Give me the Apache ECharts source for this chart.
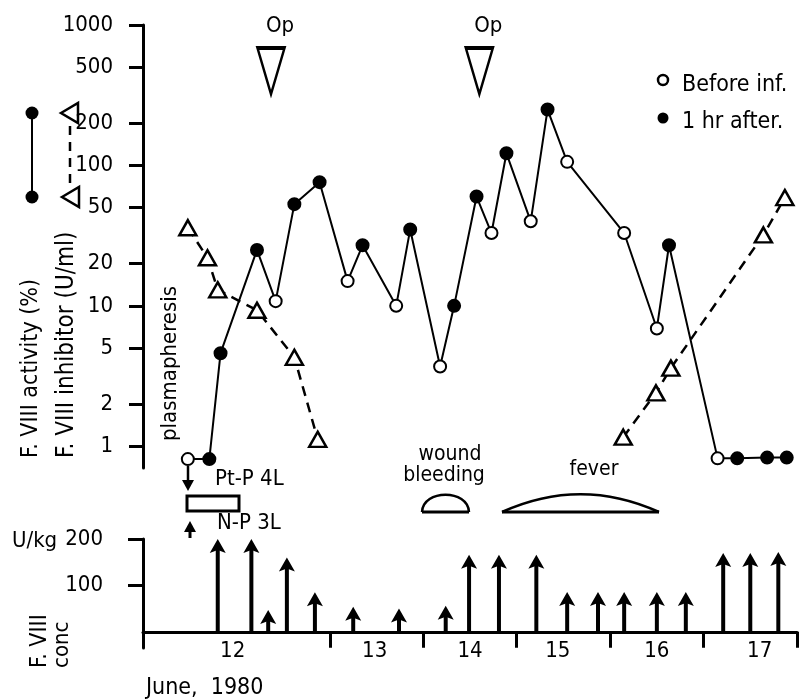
<!DOCTYPE html>
<html>
<head>
<meta charset="utf-8">
<script src="https://cdn.jsdelivr.net/npm/echarts@6/dist/echarts.min.js"></script>
<style>html,body{margin:0;padding:0;background:#fff}#chart{width:799px;height:700px}</style>
</head>
<body>
<div id="chart"></div>
<script>
// x values are in day units, 0 = left end of the time axis (one unit = one day)
var activityDays = [0.48, 0.71, 0.83, 1.22, 1.42, 1.62, 1.89, 2.19, 2.35, 2.71, 2.86, 3.18, 3.33, 3.57, 3.73, 3.89, 4.15, 4.33, 4.54, 5.15, 5.50, 5.63, 6.15, 6.36, 6.68, 6.89];
var activityVals = [0.81, 0.81, 4.6, 25, 10.8, 53, 76, 15, 27, 10, 35, 3.7, 10, 60, 33, 122, 40, 250, 106, 33, 6.9, 27, 0.82, 0.82, 0.83, 0.83];
var activityAfter = [0, 1, 1, 1, 0, 1, 1, 0, 1, 0, 1, 0, 1, 1, 0, 1, 0, 1, 0, 0, 0, 1, 0, 1, 1, 1];
var inhibitorDays = [0.48, 0.69, 0.80, 1.22, 1.62, 1.87, null, 5.14, 5.49, 5.65, 6.64, 6.87];
var inhibitorVals = [36, 22, 13, 9.3, 4.3, 1.12, null, 1.16, 2.4, 3.6, 32, 59];
var doseDays = [0.80, 1.16, 1.34, 1.54, 1.84, 2.25, 2.74, 3.24, 3.49, 3.81, 4.21, 4.54, 4.87, 5.15, 5.50, 5.81, 6.21, 6.50, 6.80];
var doseVals = [200, 200, 47, 160, 85, 54, 50, 56, 166, 166, 166, 86, 86, 86, 86, 86, 170, 170, 172];
var opDays = [1.37, 3.60];
var opLevel = 470;
var dayTicks = [2, 3, 4, 5, 6, 7];
var dayLabelPos = [0.96, 2.48, 3.5, 4.44, 5.5, 6.6];
var dayLabels = ['12', '13', '14', '15', '16', '17'];
var activityTicks = [1, 2, 5, 10, 20, 50, 100, 200, 500, 1000];
var doseTicks = [100, 200];

var FONT = "'Liberation Sans Narrow', 'DejaVu Sans Condensed', sans-serif";
var black = '#000';

var chart = echarts.init(document.getElementById('chart'));

function dayLabel(v) {
	for (var i = 0; i < dayLabelPos.length; i++) {
		if (Math.abs(dayLabelPos[i] - v) < 1e-6) return dayLabels[i];
	}
	return '';
}

function txt(x, y, s, size, align) {
	return {
		type: 'text', x: x, y: y,
		style: { text: s, fill: black, font: size + 'px ' + FONT, textAlign: align || 'left', textVerticalAlign: 'middle' }
	};
}
function vtxt(x, yBottom, s, size) {
	return {
		type: 'text', x: x, y: yBottom, rotation: Math.PI / 2,
		style: { text: s, fill: black, font: size + 'px ' + FONT, textAlign: 'left', textVerticalAlign: 'middle' }
	};
}
function arrowHead(x, y, dir) {
	// dir 1 = pointing down, -1 = pointing up
	return {
		type: 'polygon',
		shape: { points: [[x, y], [x - 6, y - dir * 11], [x + 6, y - dir * 11]] },
		style: { fill: black }
	};
}
function dome(x1, x2, yBase, cp1, cp2) {
	return [
		{ type: 'bezierCurve', shape: { x1: x1, y1: yBase, x2: x2, y2: yBase, cpx1: cp1[0], cpy1: cp1[1], cpx2: cp2[0], cpy2: cp2[1] }, style: { stroke: black, lineWidth: 2.5, fill: null } },
		{ type: 'line', shape: { x1: x1, y1: yBase, x2: x2, y2: yBase }, style: { stroke: black, lineWidth: 3 } }
	];
}

var graphics = [
	// left legend marks
	{ type: 'line', shape: { x1: 32, y1: 113, x2: 32, y2: 197 }, style: { stroke: black, lineWidth: 2 } },
	{ type: 'circle', shape: { cx: 32, cy: 113, r: 6.5 }, style: { fill: black } },
	{ type: 'circle', shape: { cx: 32, cy: 197, r: 6.5 }, style: { fill: black } },
	{ type: 'line', shape: { x1: 70, y1: 126, x2: 70, y2: 186 }, style: { stroke: black, lineWidth: 2.5, lineDash: [9, 7] } },
	{ type: 'polygon', shape: { points: [[61, 113], [78, 103], [78, 123]] }, style: { fill: '#fff', stroke: black, lineWidth: 2.5 } },
	{ type: 'polygon', shape: { points: [[62, 197], [79, 187], [79, 207]] }, style: { fill: '#fff', stroke: black, lineWidth: 2.5 } },
	vtxt(31, 458, 'F. VIII activity (%)', 23),
	vtxt(67, 458, 'F. VIII inhibitor (U/ml)', 24),
	vtxt(170, 441, 'plasmapheresis', 22),
	// right legend
	{ type: 'circle', shape: { cx: 663, cy: 80, r: 5 }, style: { fill: '#fff', stroke: black, lineWidth: 2.5 } },
	{ type: 'circle', shape: { cx: 663, cy: 118, r: 5.5 }, style: { fill: black } },
	txt(682, 85, 'Before inf.', 23),
	txt(682, 122, '1 hr after.', 23),
	// plasmapheresis block
	{ type: 'line', shape: { x1: 188, y1: 466, x2: 188, y2: 482 }, style: { stroke: black, lineWidth: 2.5 } },
	arrowHead(188, 491, 1),
	{ type: 'rect', shape: { x: 187, y: 496, width: 52, height: 15 }, style: { fill: '#fff', stroke: black, lineWidth: 3 } },
	{ type: 'line', shape: { x1: 190, y1: 538, x2: 190, y2: 529 }, style: { stroke: black, lineWidth: 3 } },
	arrowHead(190, 521, -1),
	txt(215, 479, 'Pt-P 4L', 22),
	txt(217, 523, 'N-P 3L', 22),
	// events
	txt(450, 455, 'wound', 21, 'center'),
	txt(444, 476, 'bleeding', 21, 'center'),
	txt(594, 470, 'fever', 21, 'center'),
	// lower panel titles
	txt(12, 541, 'U/kg', 22),
	vtxt(40, 668, 'F. VIII', 23),
	vtxt(62, 668, 'conc', 22),
	txt(146, 688, 'June,  1980', 23)
].concat(dome(422, 469, 512, [423, 489], [468, 489]), dome(502, 659, 512, [555, 488], [606, 488]));

var labelStyle = { color: black, fontSize: 22, fontFamily: FONT };

var option = {
	animation: false,
	backgroundColor: '#fff',
	textStyle: { fontFamily: FONT },
	grid: [
		{ left: 143, right: 2, top: 25, height: 443 },
		{ left: 143, right: 2, top: 539, height: 109 }
	],
	xAxis: [
		{ type: 'value', gridIndex: 0, min: 0, max: 7, show: false },
		{
			type: 'value', gridIndex: 1, min: 0, max: 7,
			axisLine: { onZero: true, lineStyle: { color: black, width: 3 } },
			axisTick: { customValues: dayTicks, length: 16, lineStyle: { color: black, width: 3 } },
			axisLabel: Object.assign({ customValues: dayLabelPos, formatter: dayLabel, margin: -8 }, labelStyle),
			splitLine: { show: false }
		}
	],
	yAxis: [
		{
			type: 'log', gridIndex: 0, min: 0.7, max: 1000,
			axisLine: { show: true, lineStyle: { color: black, width: 3 } },
			axisTick: { show: true, customValues: activityTicks, length: 14, lineStyle: { color: black, width: 3 } },
			axisLabel: Object.assign({ customValues: activityTicks, margin: 30, formatter: function (v) { return String(v); } }, labelStyle),
			splitLine: { show: false }
		},
		{
			type: 'value', gridIndex: 1, min: -35, max: 200,
			axisLine: { show: true, lineStyle: { color: black, width: 3 } },
			axisTick: { show: true, customValues: doseTicks, length: 15, lineStyle: { color: black, width: 3 } },
			axisLabel: Object.assign({ customValues: doseTicks, margin: 40 }, labelStyle),
			splitLine: { show: false }
		}
	],
	series: [
		{
			name: 'inhibitor', type: 'line', xAxisIndex: 0, yAxisIndex: 0,
			data: inhibitorDays.map(function (d, i) { return [d, inhibitorVals[i]]; }),
			connectNulls: false,
			symbol: 'triangle', symbolSize: [17, 15],
			itemStyle: { color: '#fff', borderColor: black, borderWidth: 2.5 },
			lineStyle: { color: black, width: 2.5, type: [10, 7] },
			z: 2
		},
		{
			name: 'activity', type: 'line', xAxisIndex: 0, yAxisIndex: 0,
			data: activityDays.map(function (d, i) {
				return { value: [d, activityVals[i]], itemStyle: { color: activityAfter[i] ? black : '#fff' } };
			}),
			symbol: 'circle', symbolSize: 12, showAllSymbol: true,
			itemStyle: { borderColor: black, borderWidth: 2 },
			lineStyle: { color: black, width: 2 },
			z: 3
		},
		{
			name: 'Op', type: 'scatter', xAxisIndex: 0, yAxisIndex: 0,
			data: opDays.map(function (d) { return [d, opLevel]; }),
			symbol: 'path://M0,0 L20,0 L10,34 Z', symbolSize: [27, 46],
			itemStyle: { color: '#fff', borderColor: black, borderWidth: 3, opacity: 1 },
			label: { show: true, position: 'top', formatter: 'Op', distance: 9, offset: [9, 0], color: black, fontSize: 22, fontFamily: FONT }
		},
		{
			name: 'dose', type: 'custom', xAxisIndex: 1, yAxisIndex: 1,
			data: doseDays.map(function (d, i) { return [d, doseVals[i]]; }),
			renderItem: function (params, api) {
				var base = api.coord([api.value(0), 0]);
				var tip = api.coord([api.value(0), api.value(1)]);
				return {
					type: 'group', children: [
						{ type: 'line', shape: { x1: base[0], y1: base[1], x2: tip[0], y2: tip[1] + 8 }, style: { stroke: black, lineWidth: 4 } },
						{ type: 'polygon', shape: { points: [[tip[0], tip[1]], [tip[0] - 8, tip[1] + 14], [tip[0], tip[1] + 11], [tip[0] + 8, tip[1] + 14]] }, style: { fill: black } }
					]
				};
			}
		}
	],
	graphic: graphics
};
chart.setOption(option);
</script>
</body>
</html>
